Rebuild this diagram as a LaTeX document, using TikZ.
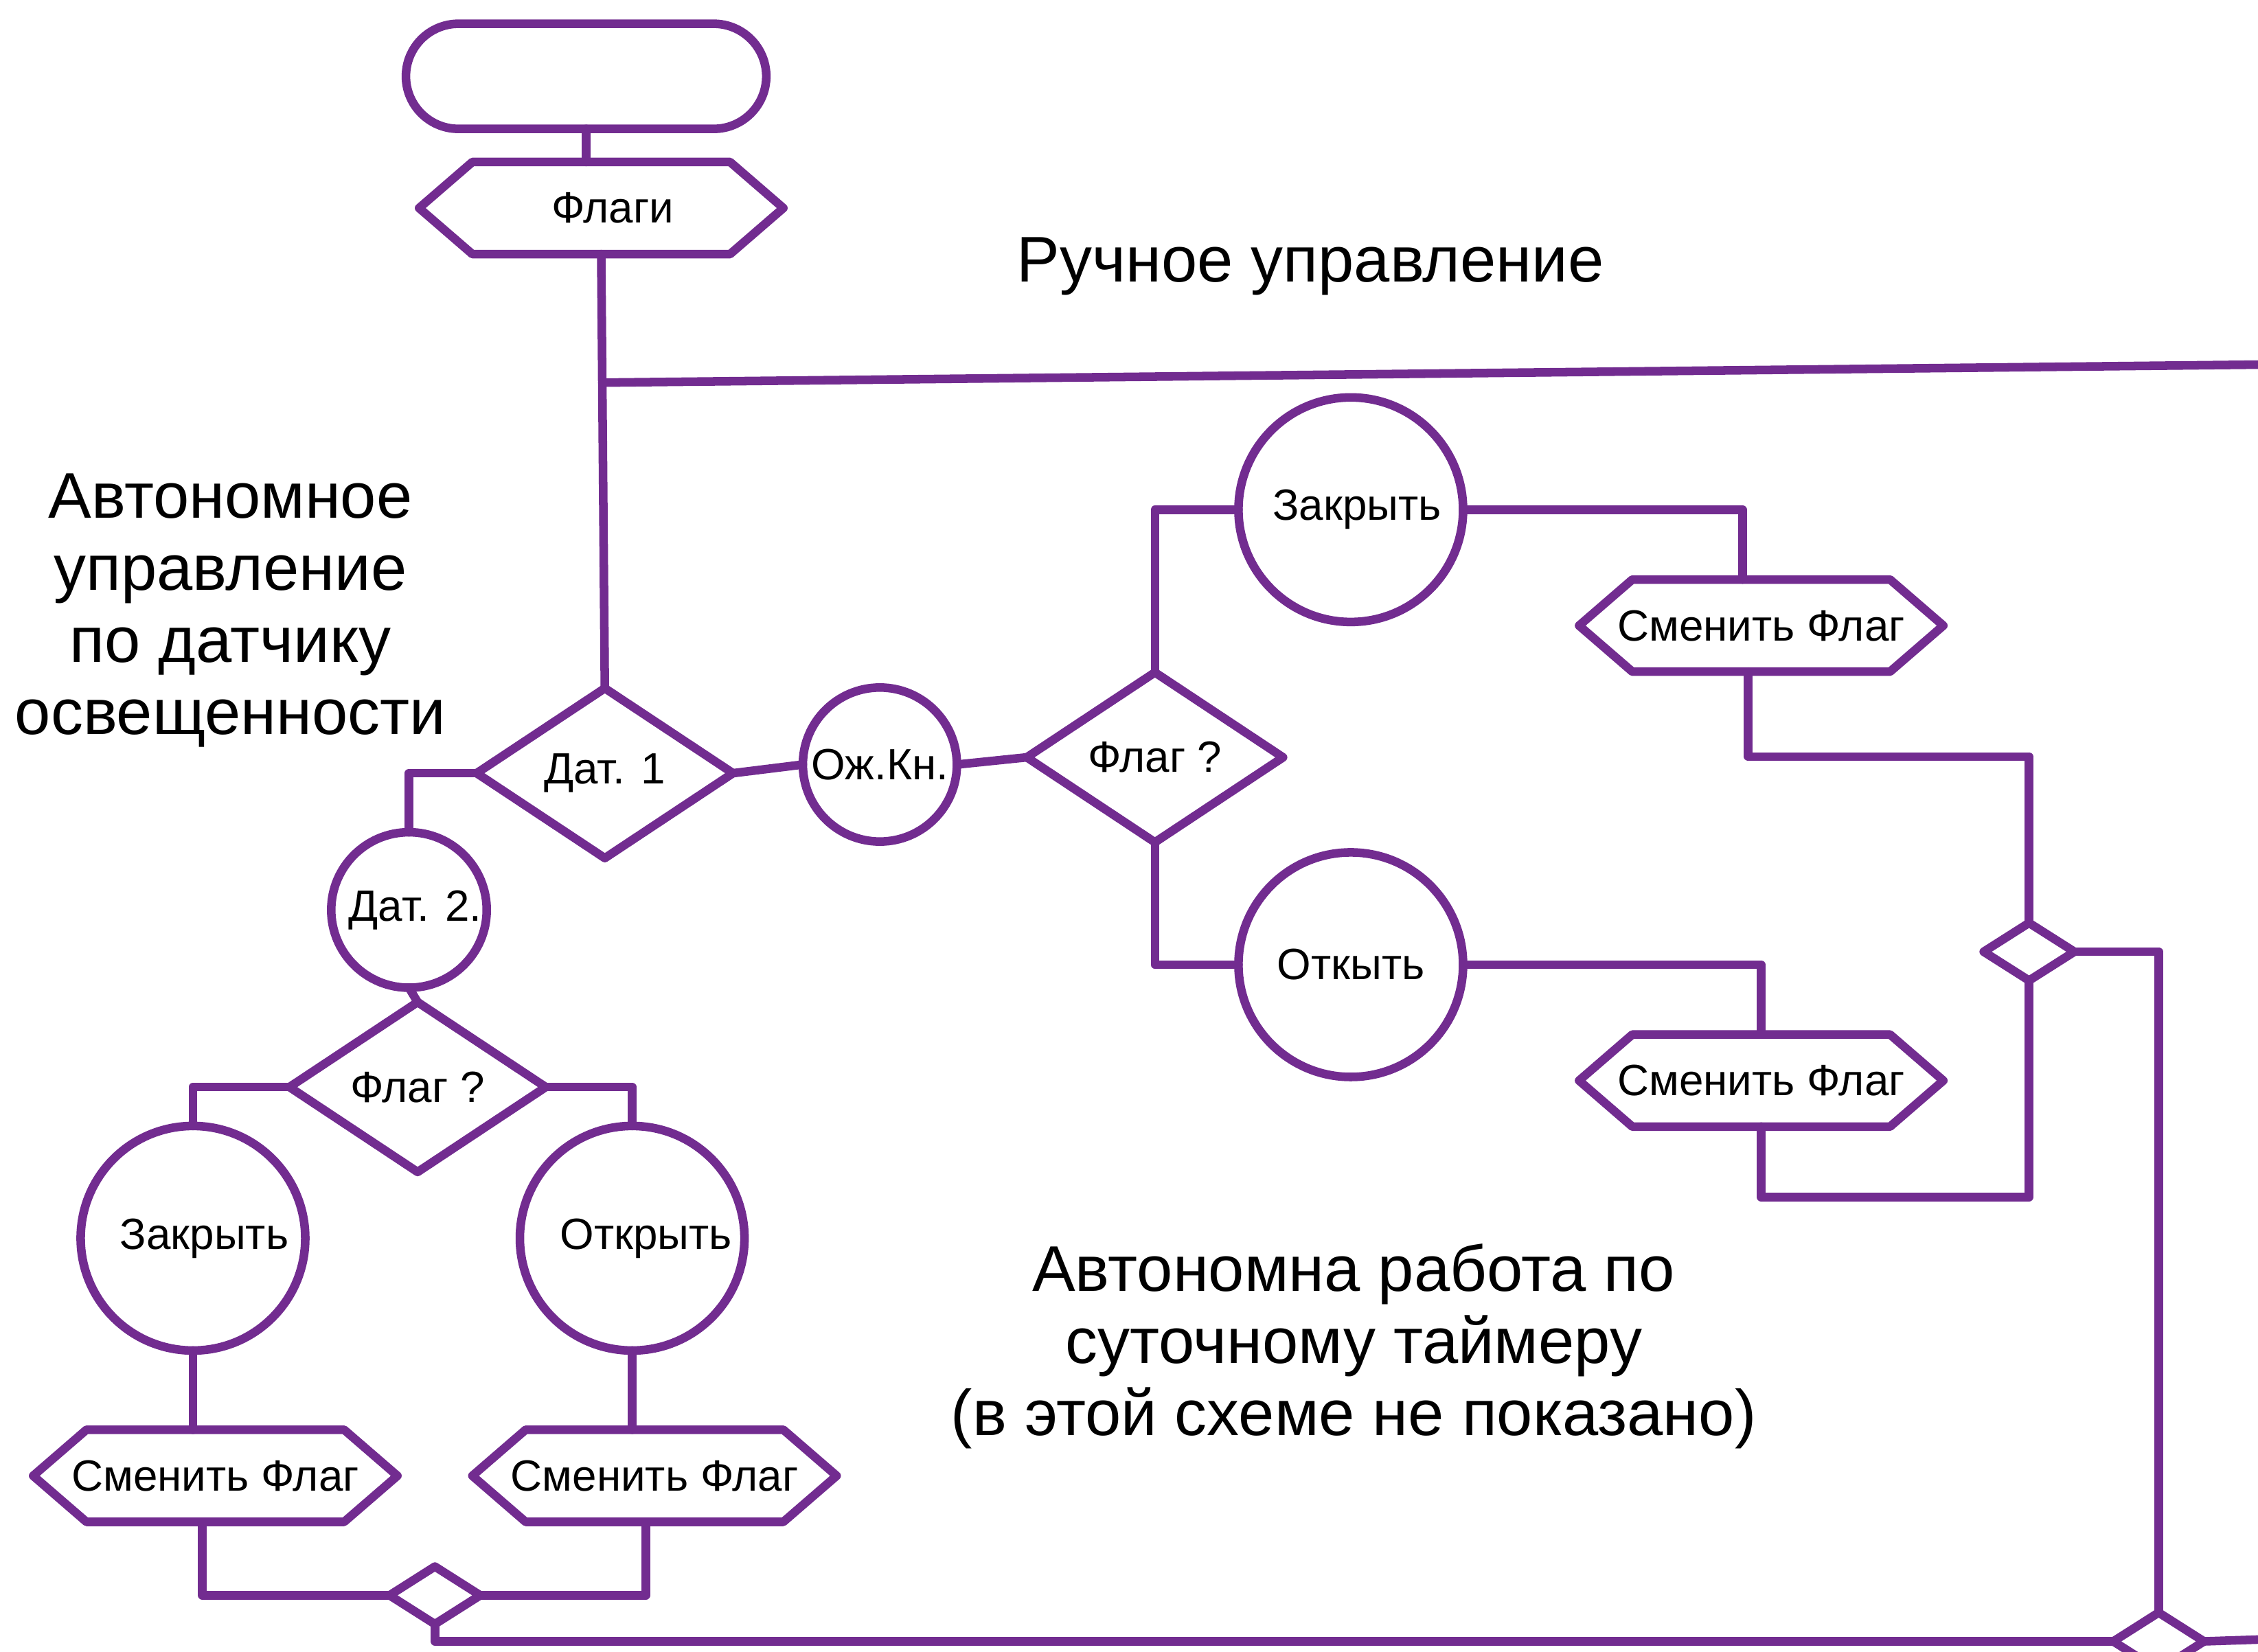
\documentclass[tikz,border=0pt]{standalone}
\usepackage{fontspec}
\setmainfont{Liberation Sans}
\usetikzlibrary{shapes.geometric,shapes.misc,calc}
\definecolor{vio}{RGB}{114,44,144}
\tikzset{
  flow/.style={draw=vio, line width=3.4pt, line join=round, line cap=round},
  lbl/.style={font=\fontsize{17.3}{20}\selectfont, text=black},
  big/.style={font=\fontsize{25.5}{28.5}\selectfont, text=black, align=center},
  circ/.style={flow, circle, inner sep=0pt, outer sep=0pt, lbl},
  dia/.style={flow, diamond, inner sep=0pt, outer sep=0pt, minimum width=3.56cm, minimum height=2.36cm, lbl},
  smalldia/.style={flow, diamond, inner sep=0pt, outer sep=0pt, minimum width=1.26cm, minimum height=0.8cm},
  hexn/.style={rectangle, inner sep=0pt, outer sep=0pt, minimum width=5.06cm, minimum height=1.28cm, lbl},
}
\newcommand{\hexbox}[3]{%
  \node[hexn] (#1) at (#2) {#3};
  \draw[flow] (#1.west) -- ($(#1.north west)+(37,0)$) -- ($(#1.north east)+(-37,0)$) -- (#1.east)
    -- ($(#1.south east)+(-37,0)$) -- ($(#1.south west)+(37,0)$) -- cycle;}
\begin{document}
\begin{tikzpicture}[x=0.02cm, y=-0.02cm]
\useasboundingbox (0,0) rectangle (1568,1147);
\clip (0,0) rectangle (1568,1147);
\fill[white] (0,0) rectangle (1568,1147);

% texts
\node[big] (tman) at (910,185) {Ручное управление};
\node[big] (tauto) at (160,424) {Автономное\\управление\\по датчику\\освещенности};
\node[big] (ttimer) at (940,935) {Автономна работа по\\суточному таймеру\\(в этой схеме не показано)};

% nodes
\node[flow, rounded rectangle, minimum width=5.24cm, minimum height=1.46cm, outer sep=0pt] (term) at (407,53) {};
\hexbox{flags}{417.5,144.5}{\hspace{9pt}Флаги}
\node[dia] (dat1) at (420,537) {Дат. 1};
\node[circ, minimum size=2.16cm] (dat2) at (284,632) {\hspace{5pt}Дат. 2.};
\node[circ, minimum size=2.14cm] (ozh) at (611,531) {Ож.Кн.};
\node[dia] (flagR) at (802,526) {Флаг ?};
\node[circ, minimum size=3.12cm] (zakR) at (938,354) {\hspace{5pt}Закрыть};
\node[circ, minimum size=3.12cm] (otkR) at (938,670) {Откыть};
\hexbox{hexR1}{1223,434.5}{Сменить Флаг}
\hexbox{hexR2}{1223,750.5}{Сменить Флаг}
\node[smalldia] (smallR) at (1409,661) {};
\node[smalldia] (smallB2) at (1499,1140) {};
\node[dia] (flagL) at (290,755) {Флаг ?};
\node[circ, minimum size=3.12cm] (zakL) at (134,860) {\hspace{9pt}Закрыть};
\node[circ, minimum size=3.12cm] (otkL) at (439,860) {\hspace{11pt}Открыть};
\hexbox{hexL1}{149.5,1025}{Сменить Флаг}
\hexbox{hexL2}{454.5,1025}{Сменить Флаг}
\node[smalldia] (smallB1) at (302,1108) {};

\coordinate (manend) at (1590,253);
\coordinate (rightend) at (1590,1138);

% connectors
\draw[flow] (term.south) -- (term.south |- flags.north);
\draw[flow] (flags.south) -- (dat1.north);
\coordinate (jman) at ($(flags.south)!0.296!(dat1.north)$);
\draw[flow] (jman) -- (manend);
\draw[flow] (dat1.west) -| (dat2.north);
\draw[flow] (dat1.east) -- (ozh.west);
\draw[flow] (ozh.east) -- (flagR.west);
\draw[flow] (flagR.north) |- (zakR.west);
\draw[flow] (zakR.east) -| ($(hexR1.north)+(-13,0)$);
\draw[flow] ($(hexR1.south)+(-9,0)$) -- ++(0,59) -| (smallR.north);
\draw[flow] (flagR.south) |- (otkR.west);
\draw[flow] (otkR.east) -| (hexR2.north);
\draw[flow] (hexR2.south) -- ++(0,49) -| (smallR.south);
\draw[flow] (smallR.east) -| (smallB2.north);
\draw[flow] (smallB2.east) -- (rightend);
\draw[flow] (dat2.south) -- (flagL.north);
\draw[flow] (flagL.west) -| (zakL.north);
\draw[flow] (flagL.east) -| (otkL.north);
\draw[flow] (zakL.south) -- (zakL.south |- hexL1.north);
\draw[flow] (otkL.south) -- (otkL.south |- hexL2.north);
\draw[flow] ($(hexL1.south)+(-9,0)$) |- (smallB1.west);
\draw[flow] ($(hexL2.south)+(-6,0)$) |- (smallB1.east);
\draw[flow] (smallB1.south) |- (smallB2.west);
\end{tikzpicture}
\end{document}
